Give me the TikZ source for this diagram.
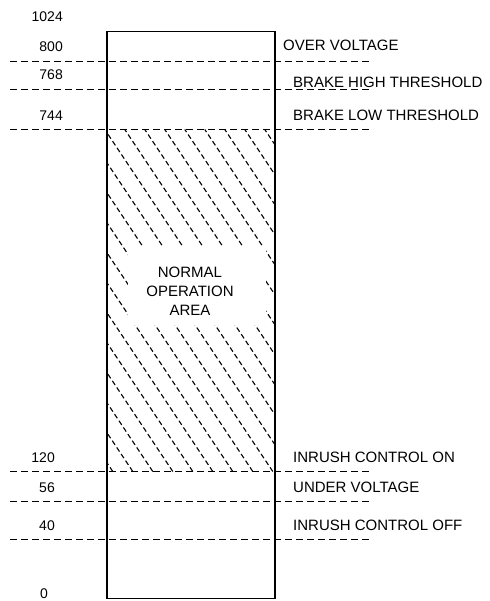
\documentclass[tikz,border=0pt]{standalone}
\usepackage{fontspec}
\setmainfont{Liberation Sans}
\begin{document}
\begin{tikzpicture}[x=1pt,y=-1pt,
  lbl/.style={inner sep=0pt,font=\fontsize{15}{18}\selectfont,anchor=base west},
  num/.style={inner sep=0pt,font=\fontsize{14}{17}\selectfont,anchor=base east},
  level/.style={line width=1.3pt,dash pattern=on 7pt off 4pt},
  hatch/.style={line width=1.1pt,dash pattern=on 5pt off 3pt},
  frame/.style={line width=1.5pt,draw=black}]
\useasboundingbox (0,0) rectangle (489,601);
% hatching
\begin{scope}
  \clip (107,129.5) rectangle (275,471.5);
  \foreach \k in {0,...,19}{
    \draw[hatch] ({112.8+20*\k},471.5) -- ({112.8+20*\k-228},129.5);
  }
\end{scope}
\fill[white] (128,247) rectangle (266,325);
% levels
\foreach \n/\y in {l800/61.5,l768/89.5,l744/129.5,l120/471.5,l56/501.5,l40/539.5}{
  \coordinate (\n a) at (10,\y);
  \coordinate (\n b) at (372,\y);
  \draw[level] (\n a) -- (\n b);
}
% frame
\coordinate (rtl) at (107,31.5);
\coordinate (rbr) at (275,598.5);
\draw[frame] (rtl) rectangle (rbr);
% left numbers
\node[num] (n1024) at (63,21.3) {1024};
\node[num] (n800) at (63,51.3) {800};
\node[num] (n768) at (63,79.8) {768};
\node[num] (n744) at (63,120.3) {744};
\node[num] (n120) at (55,462) {120};
\node[num] (n56) at (55,492) {56};
\node[num] (n40) at (55,530.3) {40};
\node[num] (n0) at (48,598.5) {0};
% right labels
\node[lbl] (tov) at (283,50.4) {OVER VOLTAGE};
\node[lbl] (tbh) at (293,87.5) {BRAKE HIGH THRESHOLD};
\node[lbl] (tbl) at (293,120.4) {BRAKE LOW THRESHOLD};
\node[lbl] (tion) at (293,462.1) {INRUSH CONTROL ON};
\node[lbl] (tuv) at (293,492.1) {UNDER VOLTAGE};
\node[lbl] (tioff) at (293,530.4) {INRUSH CONTROL OFF};
% center text
\node[inner sep=0pt,align=center,font=\fontsize{15}{19}\selectfont] (area) at (190,291) {NORMAL\\OPERATION\\AREA};
\end{tikzpicture}
\end{document}
